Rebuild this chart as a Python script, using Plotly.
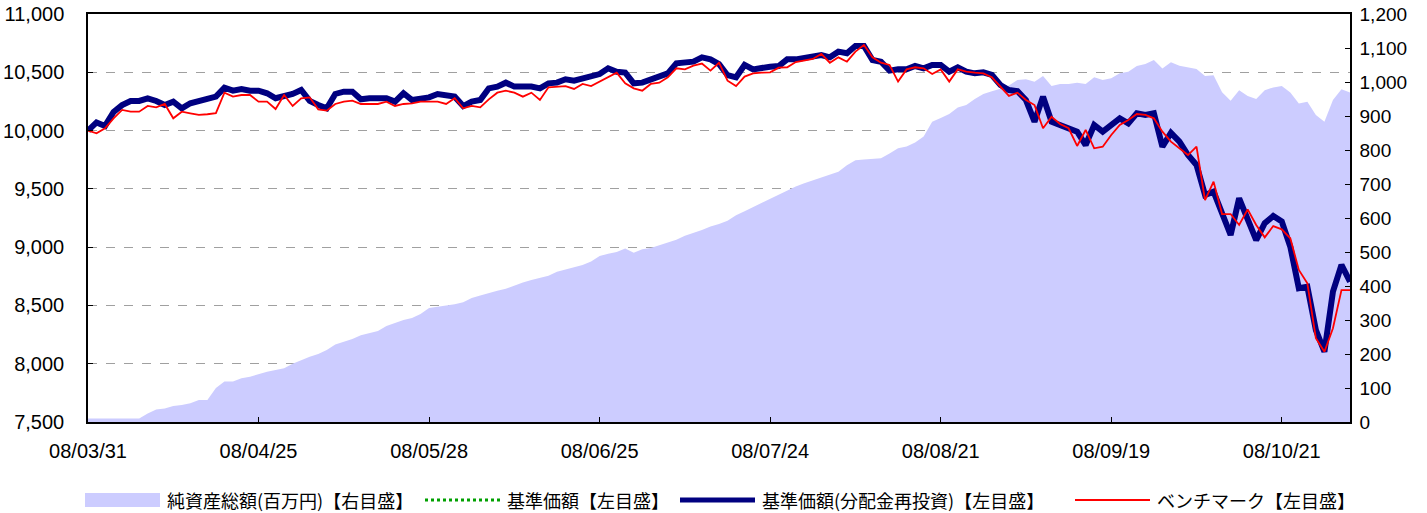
import plotly.graph_objects as go

# x positions are trading-day indices; ticks every 20 trading days
tick_pos = [0, 20, 40, 60, 80, 100, 120, 140]
tick_labels = ["08/03/31", "08/04/25", "08/05/28", "08/06/25", "08/07/24", "08/08/21", "08/09/19", "08/10/21"]

# 基準価額(分配金再投資) (左目盛)
nav_reinvested = [
    10000, 10070, 10040, 10160, 10219, 10254, 10254, 10277, 10254, 10219,
    10248, 10191, 10234, 10256, 10268, 10291, 10368, 10342, 10357, 10342,
    10342, 10320, 10277, 10297, 10314, 10348, 10255, 10220, 10191, 10314,
    10334, 10334, 10268, 10277, 10277, 10277, 10248, 10320, 10262, 10277,
    10285, 10314, 10297, 10291, 10210, 10248, 10262, 10362, 10377, 10411,
    10377, 10377, 10377, 10362, 10405, 10411, 10440, 10428, 10448, 10468,
    10485, 10534, 10505, 10497, 10405, 10411, 10440, 10457, 10491, 10577,
    10582, 10591, 10628, 10611, 10571, 10475, 10457, 10563, 10525, 10543,
    10548, 10553, 10611, 10611, 10620, 10640, 10648, 10628, 10677, 10663,
    10726, 10726, 10605, 10591, 10514, 10525, 10525, 10554, 10534, 10563,
    10563, 10505, 10543, 10505, 10491, 10500, 10477, 10391, 10348, 10338,
    10262, 10076, 10291, 10076, 10048, 10020, 9991, 9876, 10048, 9991,
    10048, 10105, 10062, 10148, 10134, 10148, 9862, 9980, 9905, 9790,
    9705, 9447, 9476, 9305, 9104, 9419, 9250, 9061, 9205, 9267,
    9220, 9004, 8647, 8661, 8289, 8103, 8618, 8847, 8704,
]

# 基準価額 (左目盛) – no distribution in the period, so identical to the reinvested series
nav = list(nav_reinvested)

# ベンチマーク (左目盛)
benchmark = [
    10000, 9977, 10020, 10105, 10177, 10162, 10162, 10211, 10199, 10228,
    10105, 10162, 10148, 10134, 10140, 10150, 10325, 10291, 10305, 10305,
    10248, 10248, 10185, 10305, 10211, 10277, 10285, 10182, 10171, 10228,
    10248, 10257, 10228, 10228, 10228, 10248, 10211, 10228, 10234, 10248,
    10248, 10248, 10228, 10277, 10191, 10211, 10199, 10268, 10325, 10342,
    10325, 10291, 10325, 10262, 10371, 10377, 10382, 10357, 10400, 10382,
    10420, 10463, 10497, 10405, 10362, 10342, 10400, 10411, 10457, 10534,
    10525, 10557, 10575, 10514, 10582, 10428, 10382, 10463, 10491, 10497,
    10500, 10540, 10543, 10588, 10600, 10614, 10657, 10582, 10628, 10591,
    10677, 10734, 10628, 10582, 10563, 10420, 10525, 10543, 10534, 10485,
    10525, 10420, 10525, 10505, 10497, 10491, 10457, 10377, 10297, 10325,
    10262, 10219, 10020, 10119, 10056, 10020, 9868, 10005, 9848, 9862,
    9962, 10048, 10091, 10142, 10134, 10105, 9991, 9905, 9848, 9790,
    9862, 9404, 9562, 9284, 9284, 9190, 9324, 9190, 9084, 9181,
    9153, 9076, 8804, 8690, 8218, 8103, 8304, 8632, 8632,
]

# 純資産総額(百万円) (右目盛)
net_assets = [
    10, 10, 10, 10, 10, 10, 10, 25, 37, 40,
    47, 50, 55, 65, 65, 100, 119, 119, 129, 133,
    141, 148, 153, 158, 171, 182, 192, 200, 212, 228,
    236, 244, 255, 262, 268, 282, 292, 300, 306, 318,
    335, 338, 342, 346, 352, 365, 372, 380, 386, 392,
    402, 410, 418, 424, 430, 442, 448, 456, 462, 472,
    488, 495, 500, 510, 498, 508, 512, 520, 528, 536,
    548, 556, 565, 575, 582, 592, 608, 620, 632, 645,
    658, 670, 682, 693, 702, 710, 718, 726, 736, 755,
    770, 772, 773, 776, 790, 805, 810, 822, 840, 883,
    894, 906, 925, 932, 950, 965, 973, 980, 990, 1006,
    1008, 1001, 1018, 988, 994, 994, 998, 994, 1014, 1006,
    1011, 1026, 1030, 1047, 1053, 1065, 1040, 1058, 1048, 1043,
    1038, 1018, 1020, 970, 945, 976, 959, 950, 976, 984,
    988, 969, 937, 942, 903, 883, 947, 979, 969,
]

series_names = [
    "純資産総額(百万円)【右目盛】",
    "基準価額【左目盛】",
    "基準価額(分配金再投資)【左目盛】",
    "ベンチマーク【左目盛】",
]

x = list(range(len(nav_reinvested)))

NUM_FONT = "Liberation Sans, Arial, sans-serif"
JP_FONT = "Noto Sans CJK JP, sans-serif"
AREA_COLOR = "#CCCCFF"
NAV_COLOR = "#00A000"
NAVR_COLOR = "#000080"
BM_COLOR = "#FF0000"

W, H = 1427, 513
ML, MR, MT, MB = 88, 77, 14, 91
PW, PH = W - ML - MR, H - MT - MB

fig = go.Figure()
fig.add_trace(go.Scatter(
    x=x, y=net_assets, name=series_names[0], yaxis="y", showlegend=False,
    mode="lines", fill="tozeroy", fillcolor=AREA_COLOR,
    line=dict(width=0, color=AREA_COLOR),
))
fig.add_trace(go.Scatter(
    x=x, y=nav, name=series_names[1], yaxis="y2", showlegend=False,
    mode="lines", line=dict(color=NAV_COLOR, width=3, dash="dot"),
))
fig.add_trace(go.Scatter(
    x=x, y=nav_reinvested, name=series_names[2], yaxis="y2", showlegend=False,
    mode="lines", line=dict(color=NAVR_COLOR, width=6),
))
fig.add_trace(go.Scatter(
    x=x, y=benchmark, name=series_names[3], yaxis="y2", showlegend=False,
    mode="lines", line=dict(color=BM_COLOR, width=1.8),
))

# ---- legend drawn below the plot (page pixel positions -> paper coords) ----
def px(xp):
    return (xp - ML) / PW

def py(yp):
    return (H - MB - yp) / PH

LEG_Y = 500
shapes = [
    dict(type="rect", xref="paper", yref="paper", x0=px(85), x1=px(160),
         y0=py(LEG_Y + 7), y1=py(LEG_Y - 7), fillcolor=AREA_COLOR, line=dict(width=0)),
    dict(type="line", xref="paper", yref="paper", x0=px(425), x1=px(500),
         y0=py(LEG_Y), y1=py(LEG_Y), line=dict(color=NAV_COLOR, width=3, dash="dot")),
    dict(type="line", xref="paper", yref="paper", x0=px(680), x1=px(755),
         y0=py(LEG_Y), y1=py(LEG_Y), line=dict(color=NAVR_COLOR, width=5)),
    dict(type="line", xref="paper", yref="paper", x0=px(1075), x1=px(1150),
         y0=py(LEG_Y), y1=py(LEG_Y), line=dict(color=BM_COLOR, width=1.8)),
]
text_x = [165, 505, 760, 1155]
annotations = [
    dict(text=name, xref="paper", yref="paper", x=px(tx), y=py(LEG_Y),
         xanchor="left", yanchor="middle", showarrow=False,
         font=dict(family=JP_FONT, size=18, color="black"))
    for name, tx in zip(series_names, text_x)
]

fig.update_layout(
    width=W, height=H,
    margin=dict(l=ML, r=MR, t=MT, b=MB, autoexpand=False),
    paper_bgcolor="white", plot_bgcolor="white",
    font=dict(family=NUM_FONT, size=19, color="black"),
    showlegend=False,
    shapes=shapes,
    annotations=annotations,
    xaxis=dict(
        range=[0, len(x) - 1], tickvals=tick_pos, ticktext=tick_labels,
        ticks="inside", ticklen=5, tickcolor="black",
        showline=True, linecolor="black", linewidth=1.5, mirror=True,
        showgrid=False, zeroline=False, automargin=False,
        ticklabelstandoff=10,
        tickfont=dict(family=NUM_FONT, size=20, color="black"),
    ),
    yaxis=dict(
        side="right", range=[0, 1200], dtick=100, tickformat=",",
        ticks="inside", ticklen=5, tickcolor="black",
        showline=True, linecolor="black", linewidth=1.5,
        showgrid=False, zeroline=False, automargin=False,
        ticklabelstandoff=4,
        tickfont=dict(family=NUM_FONT, size=19, color="black"),
    ),
    yaxis2=dict(
        overlaying="y", side="left", range=[7500, 11000], dtick=500, tickformat=",",
        ticks="inside", ticklen=5, tickcolor="black",
        showline=True, linecolor="black", linewidth=1.5,
        showgrid=True, gridcolor="#A0A0A0", griddash="dash", gridwidth=1,
        zeroline=False, automargin=False,
        ticklabelstandoff=18,
        tickfont=dict(family=NUM_FONT, size=20, color="black"),
    ),
)

fig.write_html(
    "out.html",
    config={"displayModeBar": False},
    post_script="document.body.style.margin='0';",
)
